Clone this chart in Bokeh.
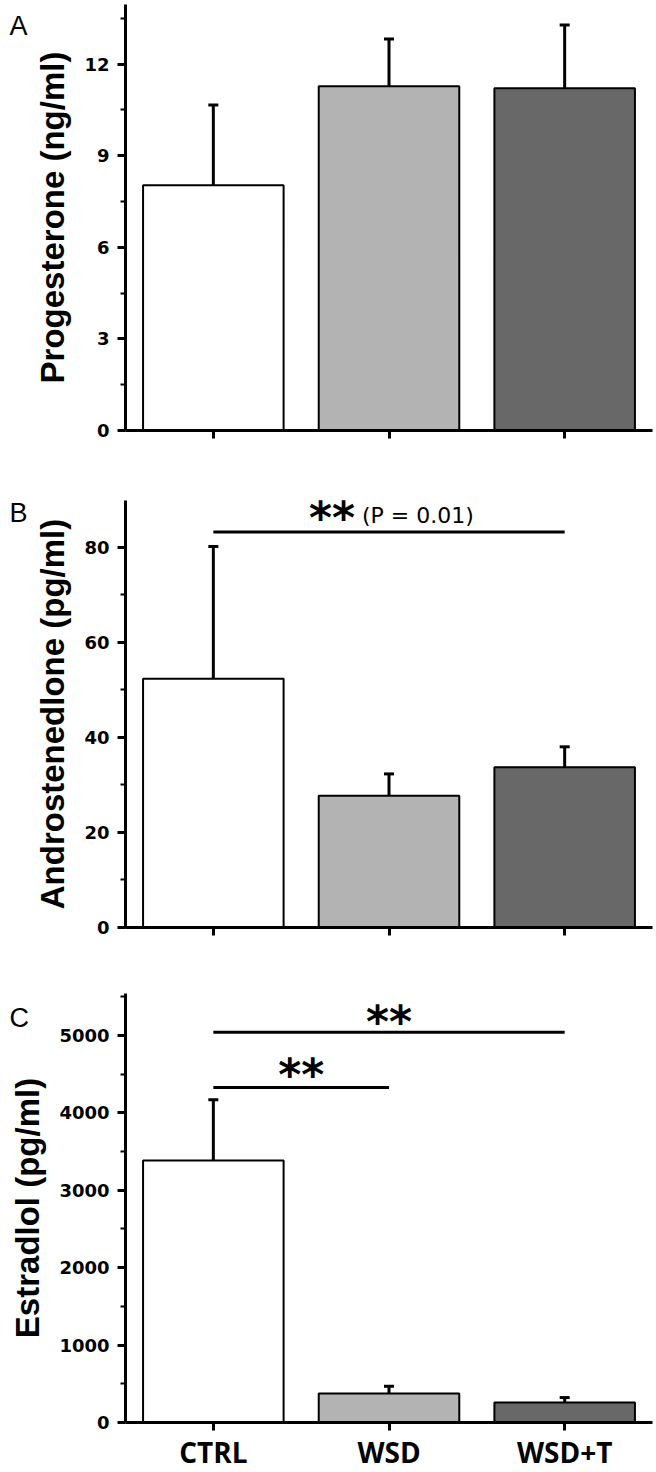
from bokeh.plotting import figure
from bokeh.models import (Range1d, FixedTicker, SingleIntervalTicker, Whisker,
                          TeeHead, Label, ColumnDataSource, LinearAxis)
from bokeh.layouts import column
from bokeh.embed import file_html
from bokeh.resources import INLINE

# ---------------- data ----------------
groups = ["CTRL", "WSD", "WSD+T"]
bar_colors = ["#ffffff", "#b3b3b3", "#686868"]

prog_mean = [8.03, 11.27, 11.21]
prog_err = [2.63, 1.55, 2.07]

andro_mean = [52.3, 27.7, 33.7]
andro_err = [27.8, 4.6, 4.3]

estra_mean = [3385, 374, 258]
estra_err = [783, 94, 64]

# significance brackets: (from, to, level, stars, note)
andro_sig = [("CTRL", "WSD+T", 83.2, "**", "(P = 0.01)")]
estra_sig = [("CTRL", "WSD+T", 5040, "**", ""),
             ("CTRL", "WSD", 4325, "**", "")]

panel_letters = ["A", "B", "C"]
y_titles = ["Progesterone (ng/ml)", "Androstenedlone (pg/ml)", "Estradlol (pg/ml)"]
y_ends = [13.95, 89.8, 5540]
y_steps = [3, 20, 1000]

# ---------------- layout (pixels) ----------------
W = 656
AX_LEFT = 125      # x pixel of the y axis
AX_RIGHT = 652     # x pixel where the x axis ends


def make_panel(letter, ytitle, mean, err, y_end, step, sigs, show_x,
               H, ax_top, ax_zero, letter_dy, star_dy):
    n = len(groups)
    xs = [i + 1 for i in range(n)]
    ppx = (AX_RIGHT - AX_LEFT) / n            # pixels per x unit
    x_lo = 0.5 - AX_LEFT / ppx
    x_hi = n + 0.5 + (W - AX_RIGHT) / ppx
    ppy = (ax_zero - ax_top) / y_end          # pixels per y unit
    y_lo = -(H - ax_zero) / ppy
    y_hi = y_end + ax_top / ppy

    p = figure(width=W, height=H,
               x_range=Range1d(x_lo, x_hi), y_range=Range1d(y_lo, y_hi),
               x_axis_type=None, y_axis_type=None,
               output_backend="svg", toolbar_location=None,
               min_border_left=0, min_border_right=0,
               min_border_top=0, min_border_bottom=0)
    p.outline_line_color = None
    p.background_fill_color = "white"
    p.border_fill_color = "white"

    p.vbar(x=xs, top=mean, width=0.8, bottom=0, fill_color=bar_colors,
           line_color="black", line_width=2)

    src = ColumnDataSource(dict(x=xs, lower=mean,
                                upper=[m + e for m, e in zip(mean, err)]))
    p.add_layout(Whisker(base="x", lower="lower", upper="upper", source=src,
                         dimension="height", line_width=3, line_color="black",
                         upper_head=TeeHead(size=10, line_width=3, line_color="black"),
                         lower_head=None))

    for k, (a, b, lvl, stars, note) in enumerate(sigs):
        xa = groups.index(a) + 1
        xb = groups.index(b) + 1
        p.segment(x0=[xa], x1=[xb], y0=[lvl], y1=[lvl], line_width=3,
                  line_color="black")
        mid = (xa + xb) / 2
        if note:
            p.add_layout(Label(x=mid, y=lvl, text=stars, text_align="right",
                               x_offset=-34, y_offset=star_dy[k],
                               text_baseline="alphabetic",
                               text_font="DejaVu Sans", text_font_style="bold",
                               text_font_size="44px", text_color="black"))
            p.add_layout(Label(x=mid, y=lvl, text=note, text_align="left",
                               x_offset=-27, y_offset=16,
                               text_baseline="alphabetic",
                               text_font="DejaVu Sans", text_font_size="22px",
                               text_color="black"))
        else:
            p.add_layout(Label(x=mid, y=lvl, text=stars, text_align="center",
                               y_offset=star_dy[k], text_baseline="alphabetic",
                               text_font="DejaVu Sans", text_font_style="bold",
                               text_font_size="44px", text_color="black"))

    # panel letter
    p.add_layout(Label(x=0.5, y=y_end, x_offset=-116, y_offset=letter_dy,
                       text=letter, text_baseline="top", text_align="left",
                       text_font="Liberation Sans", text_font_size="27px",
                       text_color="black"))

    yax = LinearAxis(ticker=SingleIntervalTicker(interval=step, num_minor_ticks=2),
                     axis_label=ytitle, fixed_location=0.5, bounds=(0, y_end))
    yax.axis_line_width = 3
    yax.axis_line_color = "black"
    yax.major_tick_line_width = 3
    yax.major_tick_line_color = "black"
    yax.major_tick_out = 8
    yax.major_tick_in = 0
    yax.minor_tick_line_width = 2
    yax.minor_tick_line_color = "black"
    yax.minor_tick_out = 5
    yax.minor_tick_in = 0
    yax.major_label_standoff = 8
    yax.major_label_text_font = "DejaVu Sans"
    yax.major_label_text_font_style = "bold"
    yax.major_label_text_font_size = "18px"
    yax.major_label_text_color = "black"
    yax.axis_label_standoff = 10
    yax.axis_label_text_font = "Liberation Sans"
    yax.axis_label_text_font_style = "bold"
    yax.axis_label_text_font_size = "33px"
    yax.axis_label_text_color = "black"
    p.add_layout(yax, "left")

    xax = LinearAxis(ticker=FixedTicker(ticks=xs), fixed_location=0,
                     bounds=(0.5, n + 0.5))
    xax.axis_line_width = 3
    xax.axis_line_color = "black"
    xax.major_tick_line_width = 3
    xax.major_tick_line_color = "black"
    xax.major_tick_out = 8
    xax.major_tick_in = 0
    xax.minor_tick_line_color = None
    if show_x:
        xax.major_label_overrides = {x: g for x, g in zip(xs, groups)}
        xax.major_label_standoff = 2
        xax.major_label_text_font = "Open Sans"
        xax.major_label_text_font_style = "bold"
        xax.major_label_text_font_size = "28px"
        xax.major_label_text_color = "black"
    else:
        xax.major_label_text_font_size = "0px"
        xax.major_label_text_color = None
    p.add_layout(xax, "below")
    return p


pA = make_panel(panel_letters[0], y_titles[0], prog_mean, prog_err, y_ends[0],
                y_steps[0], [], False, 470, 4, 430, -6, [])
pB = make_panel(panel_letters[1], y_titles[1], andro_mean, andro_err, y_ends[1],
                y_steps[1], andro_sig, False, 495, 30, 457, 3, [14])
pC = make_panel(panel_letters[2], y_titles[2], estra_mean, estra_err, y_ends[2],
                y_steps[2], estra_sig, True, 507, 28, 457, -9, [11, 13])

layout = column(pA, pB, pC, spacing=0)
open("out.html", "w").write(file_html(layout, INLINE))
